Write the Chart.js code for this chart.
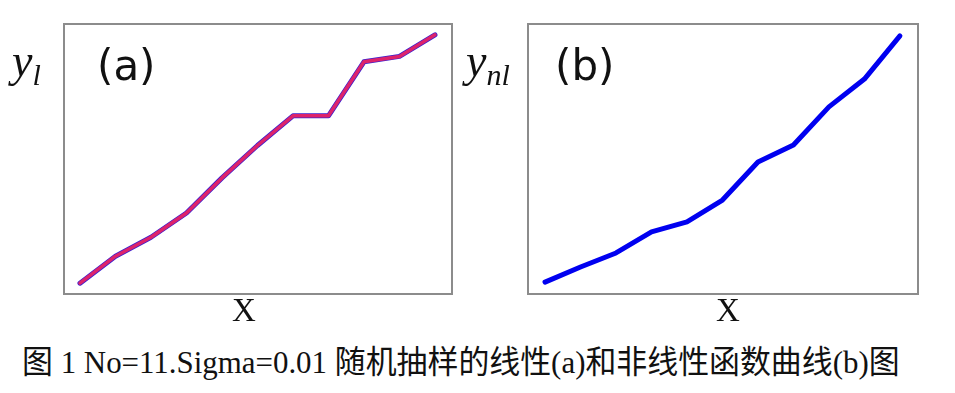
<!DOCTYPE html>
<html>
<head>
<meta charset="utf-8">
<script src="https://cdn.jsdelivr.net/npm/chart.js@4"></script>
<style>
    body { margin: 0; background: #fff; width: 955px; height: 393px; overflow: hidden; position: relative; }
    .box { position: absolute; top: 0; height: 330px; }
    .lbl { position: absolute; white-space: nowrap; color: #111; line-height: 1; }
    .ylab { font-family: "Liberation Serif", serif; font-style: italic; font-size: 46px; }
    .ylab sub { font-size: 30px; vertical-align: -9px; }
    .tag { font-family: "DejaVu Sans", sans-serif; font-size: 42px; }
    .xlab { font-family: "Liberation Serif", serif; font-size: 33px; }
    #caption { position: absolute; left: 22px; top: 346px; font-family: "Liberation Serif", "Noto Sans CJK SC", serif; font-size: 32px; line-height: 1; white-space: nowrap; transform-origin: 0 0; color: #111; }
</style>
</head>
<body>
<div class="box" style="left:0;width:477px"><canvas id="chartA"></canvas></div>
<div class="box" style="left:477px;width:478px"><canvas id="chartB"></canvas></div>

<div class="lbl ylab" style="left:12px;top:38px">y<sub>l</sub></div>
<div class="lbl tag" style="left:97px;top:45px">(a)</div>
<div class="lbl xlab" style="left:232px;top:294px">X</div>

<div class="lbl ylab" style="left:466px;top:38px">y<sub>nl</sub></div>
<div class="lbl tag" style="left:555px;top:45px">(b)</div>
<div class="lbl xlab" style="left:716px;top:294px">X</div>

<div id="caption">图 1 No=11.Sigma=0.01 随机抽样的线性(a)和非线性函数曲线(b)图</div>

<script>
// sample positions (No = 11)
const xs = [1, 2, 3, 4, 5, 6, 7, 8, 9, 10, 11];
// (a) linear function: sampled values and fitted curve (they overlap)
const linSample = [0.04, 0.14, 0.21, 0.30, 0.43, 0.55, 0.66, 0.66, 0.86, 0.88, 0.96];
const linFit    = [0.04, 0.14, 0.21, 0.30, 0.43, 0.55, 0.66, 0.66, 0.86, 0.88, 0.96];
// (b) non-linear function
const nonLin = [0.044, 0.10, 0.152, 0.23, 0.267, 0.348, 0.489, 0.552, 0.693, 0.796, 0.956];

const framePlugin = {
    id: "frame",
    afterDraw(chart) {
        const a = chart.chartArea;
        const ctx = chart.ctx;
        ctx.save();
        ctx.strokeStyle = "#8c8c8c";
        ctx.lineWidth = 2;
        ctx.strokeRect(a.left, a.top, a.right - a.left, a.bottom - a.top);
        ctx.restore();
    }
};

function pts(vals) {
    return xs.map((x, i) => ({ x: x, y: vals[i] }));
}

function makeChart(id, datasets, pad, xMin, xMax) {
    return new Chart(document.getElementById(id), {
        type: "line",
        data: { datasets: datasets },
        options: {
            responsive: true,
            maintainAspectRatio: false,
            animation: false,
            layout: { padding: pad },
            plugins: { legend: { display: false }, tooltip: { enabled: false } },
            elements: { point: { radius: 0 }, line: { tension: 0, borderJoinStyle: "round", borderCapStyle: "round" } },
            scales: {
                x: { type: "linear", min: xMin, max: xMax, display: false },
                y: { min: 0, max: 1, display: false }
            }
        },
        plugins: [framePlugin]
    });
}

// first dataset is drawn on top, so the red fit goes first
makeChart("chartA", [
    { data: pts(linFit), borderColor: "rgba(240,35,95,0.9)", borderWidth: 3.5 },
    { data: pts(linSample), borderColor: "#3a1fd0", borderWidth: 5 }
], { left: 64, top: 24, right: 25, bottom: 36 }, 0.55, 11.48);

makeChart("chartB", [
    { data: pts(nonLin), borderColor: "#0000f0", borderWidth: 5 }
], { left: 51, top: 24, right: 37, bottom: 36 }, 0.52, 11.51);

// squeeze the caption to the width it has in the figure
const cap = document.getElementById("caption");
cap.style.transform = "scale(" + (878 / cap.offsetWidth) + ",1)";
</script>
</body>
</html>
